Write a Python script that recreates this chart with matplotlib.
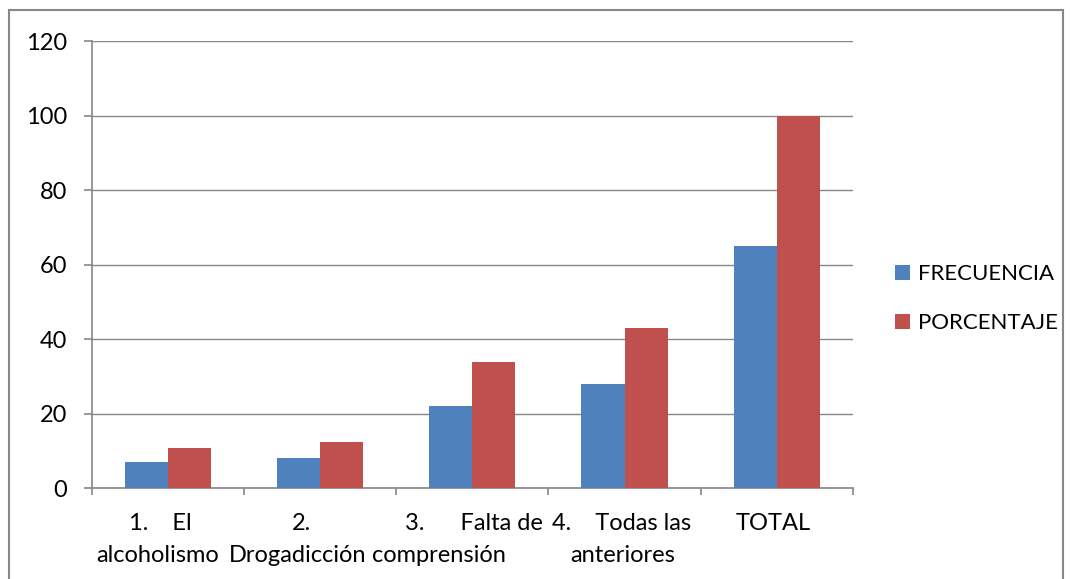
import numpy as np
import matplotlib.pyplot as plt
from matplotlib.patches import Rectangle
from matplotlib.transforms import blended_transform_factory

plt.rcParams['font.family'] = ['Lato', 'DejaVu Sans']

categorias = ['1.    El\nalcoholismo', '2.\nDrogadicción', '3.      Falta de\ncomprensión',
              '4.    Todas las\nanteriores', 'TOTAL']
frecuencia = np.array([7, 8, 22, 28, 65])
porcentaje = np.array([10.77, 12.31, 33.85, 43.08, 100])
yticks = [0, 20, 40, 60, 80, 100, 120]

# desplazamiento de cada linea de la etiqueta (linea1, linea2)
desp = [(-0.05, -0.07), (-0.12, -0.15), (0.01, -0.22), (-0.02, -0.01), (-0.02, -0.02)]

azul = '#4F81BD'
rojo = '#C0504D'
gris = '#868686'
fs = 17

fig = plt.figure(figsize=(10.7, 5.79), dpi=100)
ax = fig.add_axes([0.086, 0.157, 0.711, 0.772])

x = np.arange(len(categorias)) + 0.5
w = 0.283
ax.bar(x - w / 2, frecuencia, w, color=azul, label='FRECUENCIA', zorder=3)
ax.bar(x + w / 2, porcentaje, w, color=rojo, label='PORCENTAJE', zorder=3)

ax.set_xlim(0, len(categorias))
ax.set_ylim(0, 120)
ax.set_yticks(yticks)
ax.set_xticks(np.arange(len(categorias) + 1))
ax.set_xticklabels([])
ax.grid(axis='y', color=gris, linewidth=1, zorder=0)
for s in ['top', 'right']:
    ax.spines[s].set_visible(False)
for s in ['left', 'bottom']:
    ax.spines[s].set_color(gris)
    ax.spines[s].set_linewidth(1.2)
ax.tick_params(axis='y', length=5.8, color=gris, width=1.2, labelsize=fs, pad=12)
ax.tick_params(axis='x', length=5, color=gris, width=1.2)

tr = blended_transform_factory(ax.transData, fig.transFigure)
for i, etiqueta in enumerate(categorias):
    lineas = etiqueta.split('\n')
    ax.text(x[i] + desp[i][0], 0.0846, lineas[0], transform=tr, ha='center',
            va='baseline', fontsize=fs)
    if len(lineas) > 1:
        ax.text(x[i] + desp[i][1], 0.029, lineas[1], transform=tr, ha='center',
                va='baseline', fontsize=fs)

fig.legend(loc='center left', bbox_to_anchor=(0.836, 0.484), frameon=False,
           fontsize=16, handlelength=0.7, handleheight=0.7, handletextpad=0.35,
           labelspacing=1.3, borderpad=0, borderaxespad=0)

fig.patches.append(Rectangle((9 / 1070, -0.1), 1054 / 1070, 1.0827, transform=fig.transFigure,
                             fill=False, edgecolor='#888888', linewidth=1.5, clip_on=False))

plt.savefig('out.png')
